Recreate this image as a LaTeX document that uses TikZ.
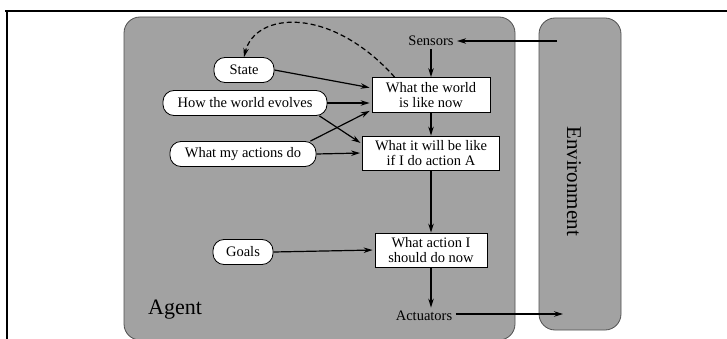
\documentclass[tikz,border=0pt]{standalone}
\usepackage{fontspec}
\setmainfont{Liberation Serif}
\usetikzlibrary{arrows.meta}
\definecolor{panelgray}{RGB}{162,162,162}
\definecolor{edgegray}{RGB}{80,80,80}
\begin{document}
\begin{tikzpicture}[x=1pt,y=-1pt,
  txt/.style={font=\fontsize{14.5}{15}\selectfont},
  rulebox/.style={txt,draw=black,fill=white,line width=0.8pt,align=center,inner sep=1pt},
  oval/.style={txt,draw=black,fill=white,line width=0.8pt,rounded corners=11pt,minimum height=25pt,inner xsep=8pt},
  arr/.style={line width=1.2pt,-{Stealth[length=9pt,width=5.5pt]}},
  panel/.style={fill=panelgray,draw=edgegray,line width=0.8pt,rounded corners=16pt}]
\useasboundingbox (0,0) rectangle (727,339);
% frame
\draw[line width=1.8pt] (5,11) -- (727,11);
\draw[line width=1.8pt] (7,11) -- (7,339);
% panels
\path[panel] (124,17) rectangle (515,340);
\path[panel] (539,18) rectangle (621,330);
\node[font=\fontsize{22}{24}\selectfont] (agentlbl) at (175,310) {Agent};
\node[font=\fontsize{21}{23}\selectfont,rotate=-90] (envlbl) at (574,181) {Environment};
% nodes
\node[txt] (sensors) at (431,41) {Sensors};
\node[txt] (actuators) at (424,316) {Actuators};
\node[rulebox,minimum width=118pt,minimum height=35pt] (box1) at (431,95) {What the world\\is like now};
\node[rulebox,minimum width=137pt,minimum height=34pt] (box2) at (431,153) {What it will be like\\if I do action A};
\node[rulebox,minimum width=112pt,minimum height=34pt] (box3) at (431,250) {What action I\\should do now};
\node[oval,minimum width=60pt] (state) at (244,70) {State};
\node[oval,minimum width=164pt] (how) at (245,103) {How the world evolves};
\node[oval,minimum width=146pt] (acts) at (243,154) {What my actions do};
\node[oval,minimum width=60pt] (goals) at (243,252) {Goals};
\coordinate (envin) at (557,41);
\coordinate (envout) at (563,313);
% connectors
\draw[arr] (envin) -- (sensors.east);
\draw[arr] ([yshift=2pt]actuators.east) -- ([yshift=2pt]actuators.east -| envout);
\draw[arr] (sensors.south) -- (box1.north);
\draw[arr] (box1.south) -- (box2.north);
\draw[arr] (box2.south) -- (box3.north);
\draw[arr] (box3.south) -- (box3.south |- actuators.north);
\draw[arr,shorten >=2pt] (state.east) -- ([yshift=7pt]box1.west);
\draw[arr,shorten >=2pt] (how.east) -- ([yshift=-8pt]box1.west);
\draw[arr,shorten >=2pt] ([xshift=-8pt]how.south east) -- ([yshift=9pt]box2.west);
\draw[arr,shorten >=2pt] ([xshift=-6pt]acts.north east) -- ([yshift=-15pt]box1.west);
\draw[arr,shorten >=2pt] (acts.east) -- (box2.west);
\draw[arr,shorten >=2pt] (goals.east) -- (box3.west);
\draw[line width=1.2pt,dash pattern=on 5pt off 3pt,-{Stealth[length=9pt,width=5.5pt]}]
  ([xshift=23pt]box1.north west) .. controls (330,5) and (255,12) .. (state.north);
\end{tikzpicture}
\end{document}
